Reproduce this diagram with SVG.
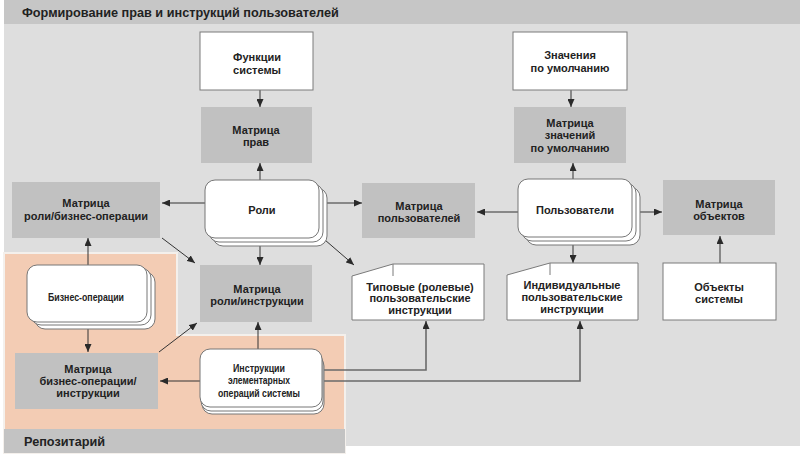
<svg xmlns="http://www.w3.org/2000/svg" width="800" height="454" viewBox="0 0 800 454">
<defs>
<marker id="ah" markerUnits="userSpaceOnUse" markerWidth="8" markerHeight="7" refX="8" refY="3.5" orient="auto">
<path d="M0,0 L8,3.5 L0,7 Z" fill="#2a2a2a"/>
</marker>
</defs>
<style>
text{font-family:"Liberation Sans",Arial,sans-serif;font-weight:bold;font-size:11px;fill:#222;text-anchor:middle}
.title{font-size:12.7px;text-anchor:start}
.narrow{font-size:11.2px}
.w{fill:#fff;stroke:#7a7a7a;stroke-width:1}
.g{fill:#c1c1c1}
.st{fill:#fff;stroke:#777;stroke-width:1}
.c{fill:none;stroke:#333;stroke-width:1;marker-end:url(#ah)}
.c2{fill:none;stroke:#6a6a6a;stroke-width:1.6;marker-end:url(#ah)}
</style>
<rect x="0" y="0" width="800" height="454" fill="#fff"/>
<rect x="4" y="0" width="796" height="446" fill="#dedede"/>
<rect x="4" y="0" width="796" height="24" fill="#c6c6c6"/>
<text class="title" x="22" y="17">Формирование прав и инструкций пользователей</text>
<path d="M4,253 L177,253 L177,335 L345,335 L345,453 L4,453 Z" fill="#f3ccb4" stroke="#f4f0ec" stroke-width="2"/>
<rect x="4" y="429" width="341" height="24" fill="#c3c3c3"/>
<text class="title" x="24" y="446">Репозитарий</text>

<g id="connectors">
<path class="c" d="M260,90 L260,107"/>
<path class="c" d="M571,90 L571,107"/>
<path class="c" d="M260,180 L260,163"/>
<path class="c" d="M573,179 L573,163"/>
<path class="c" d="M205,203 L162,203"/>
<path class="c" d="M327,203 L362,203"/>
<path class="c" d="M518,212 L477,212"/>
<path class="c" d="M640,212 L662,212"/>
<path class="c" d="M260,246 L260,265"/>
<path class="c" d="M325,240 L354,265"/>
<path class="c" d="M162,238 L195,263"/>
<path class="c" d="M573,245 L573,263"/>
<path class="c" d="M720,263 L720,236"/>
<path class="c" d="M88,265 L88,238"/>
<path class="c" d="M88,329 L88,352"/>
<path class="c" d="M159,352 L197,323"/>
<path class="c" d="M258,349 L258,322"/>
<path class="c" d="M200,381 L160,381"/>
<path class="c2" d="M322,370 L426,370 L426,321"/>
<path class="c2" d="M322,381 L580,381 L580,321"/>
</g>

<g id="funkcii">
<rect class="w" x="200" y="32" width="113" height="58"/>
<text x="257" y="61">Функции</text>
<text x="257" y="73.5">системы</text>
</g>
<g id="matrica-prav">
<rect class="g" x="201" y="107" width="111" height="56"/>
<text x="256" y="133.5">Матрица</text>
<text x="256" y="146">прав</text>
</g>
<g id="znacheniya">
<rect class="w" x="513" y="32" width="114" height="58"/>
<text x="570" y="58.5">Значения</text>
<text x="570" y="71.5">по умолчанию</text>
</g>
<g id="matrica-znacheniy">
<rect class="g" x="514" y="107" width="112" height="56"/>
<text x="570" y="126.5">Матрица</text>
<text x="570" y="139">значений</text>
<text x="570" y="151.5">по умолчанию</text>
</g>
<g id="matrica-roli-biznes">
<rect class="g" x="12" y="182" width="148" height="56"/>
<text x="86" y="207">Матрица</text>
<text x="86" y="219.5">роли/бизнес-операции</text>
</g>
<g id="roli">
<rect class="st" x="213" y="188" width="114" height="58" rx="10"/>
<rect class="st" x="209" y="184" width="114" height="58" rx="10"/>
<rect class="st" x="205" y="180" width="114" height="58" rx="10"/>
<text x="262" y="214">Роли</text>
</g>
<g id="matrica-polzovateley">
<rect class="g" x="362" y="183" width="113" height="55"/>
<text x="419" y="210">Матрица</text>
<text x="419" y="222">пользователей</text>
</g>
<g id="polzovateli">
<rect class="st" x="526" y="187" width="114" height="58" rx="10"/>
<rect class="st" x="522" y="183" width="114" height="58" rx="10"/>
<rect class="st" x="518" y="179" width="114" height="58" rx="10"/>
<text x="575" y="213.5">Пользователи</text>
</g>
<g id="matrica-obektov">
<rect class="g" x="663" y="180" width="112" height="55"/>
<text x="719" y="207.5">Матрица</text>
<text x="719" y="219.5">объектов</text>
</g>
<g id="obekty">
<rect class="w" x="663" y="263" width="113" height="57"/>
<text x="719" y="291">Объекты</text>
<text x="719" y="303">системы</text>
</g>
<g id="individualnye">
<path class="w" d="M507,275 L550,263 L638,263 L638,320 L507,320 Z"/>
<path d="M550,263 L550,275" stroke="#7a7a7a" fill="none"/>
<text x="572" y="289">Индивидуальные</text>
<text x="572" y="301">пользовательские</text>
<text x="572" y="313">инструкции</text>
</g>
<g id="tipovye">
<path class="w" d="M352,276 L393,264 L484,264 L484,320 L352,320 Z"/>
<path d="M393,264 L393,276" stroke="#7a7a7a" fill="none"/>
<text x="420" y="290.5">Типовые (ролевые)</text>
<text x="420" y="302">пользовательские</text>
<text x="420" y="314">инструкции</text>
</g>
<g id="matrica-roli-instrukcii">
<rect class="g" x="200" y="265" width="112" height="57"/>
<text x="257" y="292.5">Матрица</text>
<text x="257" y="304.5">роли/инструкции</text>
</g>
<g id="biznes-operacii">
<rect class="st" x="35" y="272" width="120" height="57" rx="10"/>
<rect class="st" x="31" y="268" width="120" height="57" rx="10"/>
<rect class="st" x="27" y="265" width="120" height="57" rx="10"/>
<text class="narrow" x="86" y="301" textLength="76" lengthAdjust="spacingAndGlyphs">Бизнес-операции</text>
</g>
<g id="matrica-biznes-instrukcii">
<rect class="g" x="15" y="353" width="143" height="56"/>
<text x="88" y="372.5">Матрица</text>
<text x="88" y="385">бизнес-операции/</text>
<text x="88" y="397">инструкции</text>
</g>
<g id="instrukcii-elementarnyh">
<rect class="st" x="202" y="356" width="122" height="58" rx="10"/>
<rect class="st" x="201" y="353" width="122" height="58" rx="10"/>
<rect class="st" x="200" y="349" width="122" height="58" rx="10"/>
<text class="narrow" x="259" y="371.5" textLength="52" lengthAdjust="spacingAndGlyphs">Инструкции</text>
<text class="narrow" x="259" y="384" textLength="62" lengthAdjust="spacingAndGlyphs">элементарных</text>
<text class="narrow" x="259" y="396.5" textLength="82" lengthAdjust="spacingAndGlyphs">операций системы</text>
</g>
</svg>
